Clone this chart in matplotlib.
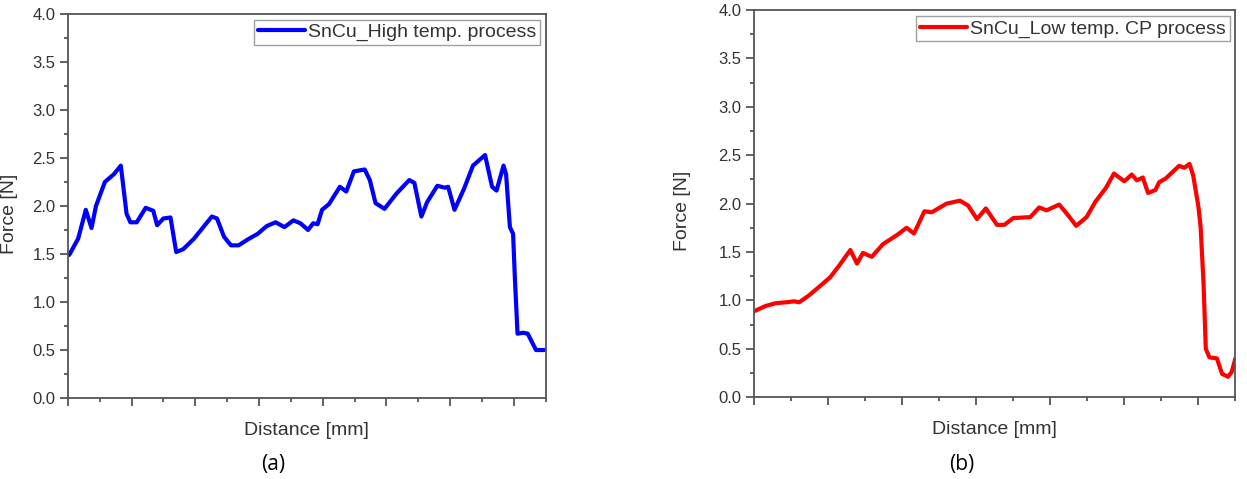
import numpy as np
import matplotlib
matplotlib.use('Agg')
import matplotlib.pyplot as plt
from matplotlib.ticker import MultipleLocator

plt.rcParams['font.family'] = ['Liberation Sans', 'DejaVu Sans']

# (a) SnCu high temp. process: distance (a.u.) vs force (N)
dist_a = [0.02, 0.16, 0.28, 0.37, 0.44, 0.58, 0.72, 0.83, 0.92, 0.98, 1.08, 1.22, 1.34,
          1.40, 1.50, 1.61, 1.70, 1.81, 1.98, 2.15, 2.26, 2.34, 2.45, 2.56, 2.68, 2.82,
          2.98, 3.12, 3.26, 3.40, 3.54, 3.65, 3.77, 3.85, 3.92, 3.99, 4.10, 4.27, 4.37,
          4.49, 4.66, 4.74, 4.83, 4.97, 5.16, 5.36, 5.44, 5.55, 5.64, 5.80, 5.92, 5.97,
          6.07, 6.22, 6.36, 6.55, 6.66, 6.73, 6.84, 6.88, 6.94, 6.99, 7.02, 7.06, 7.15,
          7.22, 7.35, 7.48]
force_a = [1.49, 1.66, 1.96, 1.77, 2.00, 2.25, 2.33, 2.42, 1.92, 1.83, 1.83, 1.98, 1.95,
           1.80, 1.87, 1.88, 1.52, 1.55, 1.66, 1.80, 1.89, 1.87, 1.68, 1.59, 1.59, 1.65,
           1.71, 1.79, 1.83, 1.78, 1.85, 1.82, 1.75, 1.82, 1.81, 1.96, 2.02, 2.20, 2.15,
           2.36, 2.38, 2.27, 2.03, 1.97, 2.13, 2.27, 2.24, 1.89, 2.04, 2.21, 2.19, 2.20,
           1.96, 2.18, 2.42, 2.53, 2.20, 2.16, 2.42, 2.33, 1.78, 1.71, 1.22, 0.67, 0.68,
           0.67, 0.50, 0.50]

# (b) SnCu low temp. CP process
dist_b = [0.01, 0.15, 0.29, 0.44, 0.54, 0.61, 0.74, 0.88, 1.03, 1.15, 1.30, 1.39, 1.47,
          1.59, 1.74, 1.84, 1.94, 2.06, 2.16, 2.30, 2.40, 2.60, 2.78, 2.89, 3.01, 3.13,
          3.28, 3.38, 3.50, 3.73, 3.85, 3.95, 4.12, 4.24, 4.35, 4.49, 4.61, 4.75, 4.86,
          5.00, 5.10, 5.17, 5.25, 5.32, 5.42, 5.47, 5.56, 5.74, 5.81, 5.88, 5.93, 6.00,
          6.03, 6.07, 6.10, 6.15, 6.25, 6.32, 6.40, 6.45, 6.50]
force_b = [0.89, 0.94, 0.97, 0.98, 0.99, 0.98, 1.05, 1.14, 1.24, 1.36, 1.52, 1.38, 1.49,
           1.45, 1.58, 1.63, 1.68, 1.75, 1.69, 1.92, 1.91, 2.00, 2.03, 1.98, 1.84, 1.95,
           1.78, 1.78, 1.85, 1.86, 1.96, 1.93, 1.99, 1.88, 1.77, 1.86, 2.02, 2.16, 2.31,
           2.23, 2.30, 2.24, 2.27, 2.11, 2.14, 2.22, 2.26, 2.39, 2.37, 2.41, 2.29, 1.97,
           1.76, 1.17, 0.50, 0.41, 0.40, 0.24, 0.21, 0.26, 0.40]

axis_grey = '#555555'
text_grey = '#333333'

fig = plt.figure(figsize=(12.47, 4.79), dpi=100)
ax_a = fig.add_axes([0.0545, 0.169, 0.383, 0.802])
ax_b = fig.add_axes([0.6047, 0.171, 0.386, 0.808])

panels = [
    (ax_a, dist_a, force_a, 'blue', 'SnCu_High temp. process', 7.5, -0.104),
    (ax_b, dist_b, force_b, 'red', 'SnCu_Low temp. CP process', 6.5, -0.13),
]

for ax, x, y, col, lab, xmax, ylab_x in panels:
    ax.plot(x, y, color=col, lw=3, solid_joinstyle='round',
            solid_capstyle='round', label=lab)
    ax.set_xlim(0, xmax)
    ax.set_ylim(0, 4.0)
    ax.xaxis.set_major_locator(MultipleLocator(1))
    ax.xaxis.set_minor_locator(MultipleLocator(0.5))
    ax.yaxis.set_major_locator(MultipleLocator(0.5))
    ax.yaxis.set_minor_locator(MultipleLocator(0.25))
    ax.set_xticklabels([])
    ax.yaxis.set_major_formatter(plt.FormatStrFormatter('%.1f'))
    ax.tick_params(which='both', direction='out', color=axis_grey, width=1.3,
                   labelsize=12, labelcolor=text_grey, top=False, right=False)
    ax.tick_params(which='major', length=5.5)
    ax.tick_params(which='minor', length=3)
    for s in ax.spines.values():
        s.set_color(axis_grey)
        s.set_linewidth(1.3)
    ax.set_xlabel('Distance [mm]', fontsize=14, color=text_grey, labelpad=8)
    ax.set_ylabel('Force [N]', fontsize=14, color=text_grey)
    ax.yaxis.set_label_coords(ylab_x, 0.48)
    leg = ax.legend(loc='upper right', fontsize=14, frameon=True, fancybox=False,
                    handlelength=2.4, handletextpad=0.15, borderpad=0.2,
                    borderaxespad=0.3, labelcolor=text_grey)
    leg.get_frame().set_edgecolor('#888888')
    leg.get_frame().set_linewidth(1.0)

fig.text(0.219, 0.03, '(a)', ha='center', va='center', fontsize=15,
         family=['Open Sans', 'DejaVu Sans'])
fig.text(0.771, 0.03, '(b)', ha='center', va='center', fontsize=15,
         family=['Open Sans', 'DejaVu Sans'])

fig.savefig('out.png', dpi=100)
